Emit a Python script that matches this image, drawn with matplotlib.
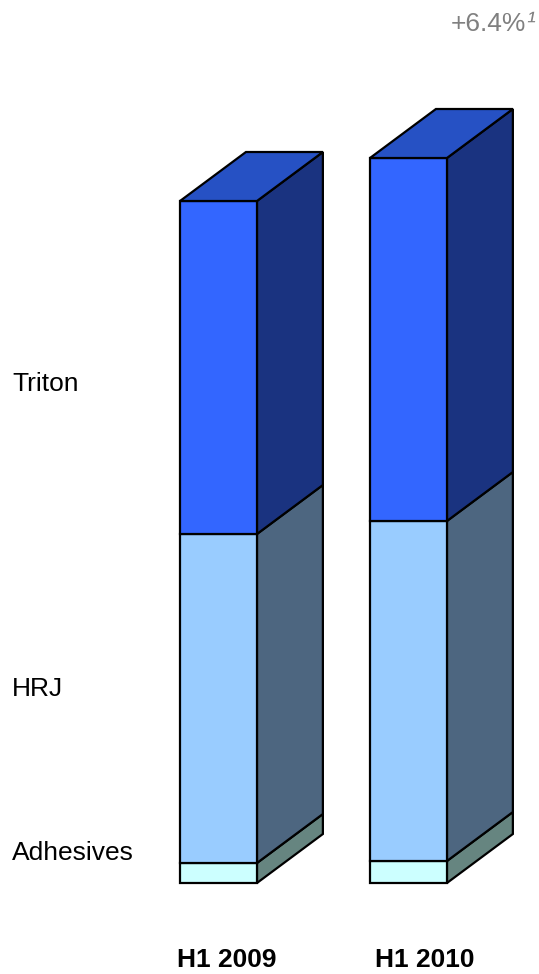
import matplotlib.pyplot as plt
from matplotlib.patches import Polygon

plt.rcParams['font.family'] = ['Liberation Sans', 'DejaVu Sans']

periods = ['H1 2009', 'H1 2010']
segments = ['Adhesives', 'HRJ', 'Triton']
adhesives = [20, 22]
hrj = [329, 340]
triton = [333, 363]
growth_label = '+6.4%'

front_colors = ['#CCFFFF', '#99CCFF', '#3366FF']
side_colors = ['#668580', '#4D6680', '#1A3380']
top_color = '#2651C4'

fig = plt.figure(figsize=(5.39, 9.74), dpi=100)
ax = fig.add_axes([0, 0, 1, 1])
ax.set_xlim(-1.15, 1.687)
ax.set_ylim(-91, 883)
ax.axis('off')

w = 0.405
dx = 0.347
dy = 49
lw = 1.6
label_shift = [0.045, 0.084]

for i, p in enumerate(periods):
    vals = [adhesives[i], hrj[i], triton[i]]
    bottom = 0
    for j, v in enumerate(vals):
        top = bottom + v
        x0, x1 = i - w / 2, i + w / 2
        front = Polygon([(x0, bottom), (x1, bottom), (x1, top), (x0, top)],
                        closed=True, fc=front_colors[j], ec='black', lw=lw, joinstyle='miter')
        side = Polygon([(x1, bottom), (x1 + dx, bottom + dy), (x1 + dx, top + dy), (x1, top)],
                       closed=True, fc=side_colors[j], ec='black', lw=lw, joinstyle='miter')
        ax.add_patch(side)
        ax.add_patch(front)
        if j == len(vals) - 1:
            lid = Polygon([(x0, top), (x0 + dx, top + dy), (x1 + dx, top + dy), (x1, top)],
                          closed=True, fc=top_color, ec='black', lw=lw, joinstyle='miter')
            ax.add_patch(lid)
        bottom = top
    ax.text(i + label_shift[i], -77, p, ha='center', va='center', fontsize=19, fontweight='bold')

# segment labels on the left
ax.text(-1.087, 499, 'Triton', ha='left', va='center', fontsize=19)
ax.text(-1.087, 194, 'HRJ', ha='left', va='center', fontsize=19)
ax.text(-1.087, 30, 'Adhesives', ha='left', va='center', fontsize=19)

ax.text(1.62, 859, growth_label, ha='right', va='center', fontsize=19, color='#808080')
ax.text(1.622, 861, '\u00b9', ha='left', va='center', fontsize=19, color='#808080', style='italic')

fig.savefig('out.png', dpi=100)
